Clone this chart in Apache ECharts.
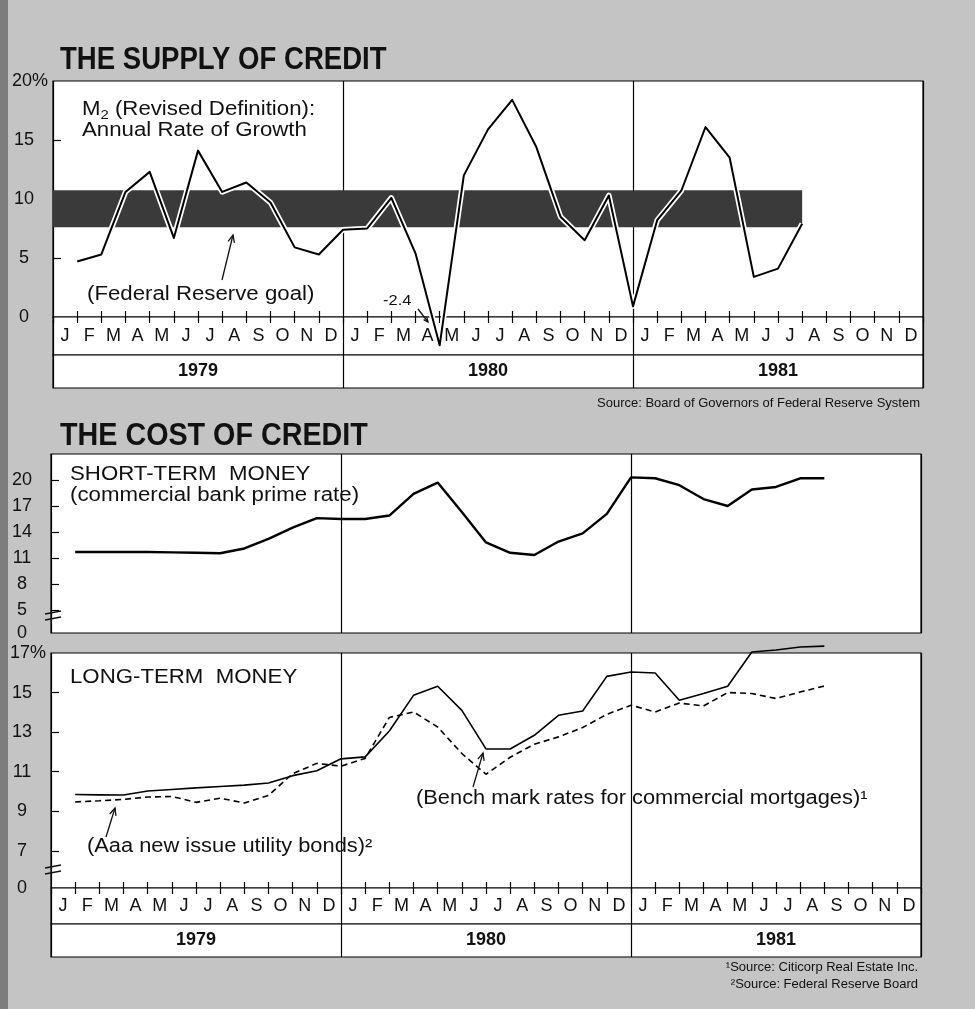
<!DOCTYPE html>
<html><head><meta charset="utf-8">
<script src="https://cdn.jsdelivr.net/npm/echarts@6/dist/echarts.min.js"></script>
<style>html,body{margin:0;padding:0;background:#c4c4c4;}#c{width:975px;height:1009px;}</style>
</head><body><div id="c"></div>
<script>
// ---------- data ----------
const monthLetters = ['J','F','M','A','M','J','J','A','S','O','N','D'];
const years = ['1979','1980','1981'];
// M2 annual rate of growth, Jan 1979 .. Jul 1981 (month-end)
const m2Growth = [4.7,5.3,10.6,12.3,6.7,14.1,10.6,11.4,9.7,5.9,5.3,7.4,
                  7.5,10.1,5.4,-2.4,12.0,15.9,18.4,14.4,8.5,6.5,10.3,0.9,
                  8.2,10.7,16.1,13.5,3.4,4.1,7.9];
const goalRange = [7.6, 10.75];
const goalEndMonth = 31;
// Commercial bank prime rate, Jan 1979 .. Aug 1981
const primeRate = [11.7,11.7,11.7,11.7,11.65,11.6,11.55,12.1,13.2,14.5,15.6,15.5,
                   15.5,15.9,18.4,19.7,16.3,12.8,11.6,11.35,12.9,13.85,16.1,20.3,
                   20.2,19.4,17.8,17.0,18.9,19.2,20.2,20.2];
// Bench mark rates for commercial mortgages (solid)
const mortgageRate = [9.85,9.83,9.82,10.02,10.1,10.18,10.25,10.32,10.43,10.8,11.05,11.65,
                      11.75,13.06,14.86,15.32,14.1,12.15,12.15,12.84,13.85,14.07,15.82,16.04,
                      15.99,14.61,14.95,15.32,17.05,17.15,17.3,17.35];
// Aaa new issue utility bonds (dashed)
const utilityBonds = [9.47,9.53,9.6,9.72,9.75,9.45,9.66,9.42,9.8,10.9,11.42,11.28,
                      11.67,13.74,14.02,13.26,11.92,10.87,11.73,12.39,12.76,13.23,13.9,14.36,
                      14.02,14.47,14.32,15.0,14.95,14.7,15.03,15.33];
// tick labels
const supplyLabels = [0,5,10,15,20];
const supplyTicks = [5,10,15];
const shortRange = [2.35, 23];
const shortLabels = [2.35,5,8,11,14,17,20,22];
const shortTicks = [5,8,11,14,17,20];
const longRange = [5.12, 17];
const longLabels = [5.12,7,9,11,13,15,17];
const longTicks = [7,9,11,13,15];

// ---------- helpers ----------
const F = '"Liberation Sans", Arial, Helvetica, sans-serif';
const INK = '#111';
const pts = arr => arr.map((v, i) => [i + 1, v]);
const allMonths = years.flatMap(() => monthLetters);
const monthTickVals = [];
for (let m = 1; m < 36; m++) if (m % 12) monthTickVals.push(m);

const gridBase = {show: true, backgroundColor: '#fff', borderColor: '#000', borderWidth: 1.2, containLabel: false, outerBoundsMode: 'none'};
const grids = [
  {left: 53, top: 81, width: 870, height: 236},   // 0 supply plot
  {left: 53, top: 317, width: 870, height: 38},   // 1 months
  {left: 53, top: 355, width: 870, height: 33},   // 2 years
  {left: 51, top: 454, width: 870, height: 179},  // 3 short-term
  {left: 51, top: 653, width: 870, height: 235},  // 4 long-term
  {left: 51, top: 888, width: 870, height: 36},   // 5 months
  {left: 51, top: 924, width: 870, height: 33}    // 6 years
].map(g => Object.assign({}, gridBase, g));

const lineBlack = {color: '#000', width: 1.2};
function plotX(gi) {
  return {type: 'value', gridIndex: gi, min: 0, max: 36, interval: 12, position: 'bottom',
    axisLine: {show: false, onZero: false}, axisLabel: {show: false}, axisTick: {show: false},
    splitLine: {show: true, lineStyle: lineBlack}};
}
function tickX(gi) {
  return {type: 'value', gridIndex: gi, min: 0, max: 36, position: 'bottom',
    axisLine: {show: false, onZero: false}, axisLabel: {show: false}, splitLine: {show: false},
    axisTick: {show: true, inside: true, length: 6, customValues: monthTickVals, lineStyle: lineBlack}};
}
function monthX(gi, margin) {
  return {type: 'category', gridIndex: gi, data: allMonths, position: 'top', boundaryGap: true,
    axisLine: {show: false, onZero: false},
    axisTick: {show: true, inside: true, length: 6, interval: 0, lineStyle: lineBlack},
    axisLabel: {inside: true, interval: 0, margin: margin, verticalAlign: 'middle', fontSize: 18, color: INK, fontFamily: F},
    splitLine: {show: true, interval: (i) => i % 12 === 0, lineStyle: lineBlack}};
}
function yearX(gi, margin) {
  return {type: 'category', gridIndex: gi, data: years, position: 'top', boundaryGap: true,
    axisLine: {show: false, onZero: false}, axisTick: {show: false},
    axisLabel: {inside: true, interval: 0, margin: margin, verticalAlign: 'middle', fontSize: 18, fontWeight: 'bold', color: INK, fontFamily: F},
    splitLine: {show: true, lineStyle: lineBlack}};
}
const pctRich = {p: {padding: [0, 0, 0, 12], fontSize: 18, color: INK, fontFamily: F}};
function valY(gi, min, max, labels, ticks, fmt) {
  return {type: 'value', gridIndex: gi, min: min, max: max,
    axisLine: {show: false, onZero: false}, splitLine: {show: false},
    axisTick: {show: true, inside: true, length: 8, customValues: ticks, lineStyle: lineBlack},
    axisLabel: {customValues: labels, formatter: fmt, margin: 29, align: 'center', fontSize: 18, color: INK, fontFamily: F, rich: pctRich}};
}
const dummyY = gi => ({type: 'value', gridIndex: gi, show: false, min: 0, max: 1});

const xAxis = [plotX(0), monthX(1, 19), yearX(2, 16.5), plotX(3), plotX(4), monthX(5, 18), yearX(6, 16.5), tickX(0), tickX(4)];
const yAxis = [
  valY(0, 0, 20, supplyLabels, supplyTicks, v => v === 20 ? '{p|20%}' : String(v)),
  dummyY(1), dummyY(2),
  valY(3, shortRange[0], shortRange[1], shortLabels, shortTicks, v => v < 3 ? '0' : (v === 22 ? '{p|22%}' : String(v))),
  valY(4, longRange[0], longRange[1], longLabels, longTicks, v => v < 6 ? '0' : (v === 17 ? '{p|17%}' : String(v))),
  dummyY(5), dummyY(6)
];

const series = [
  {type: 'line', xAxisIndex: 0, yAxisIndex: 0, data: pts(m2Growth), symbol: 'none', silent: true, z: 1,
    lineStyle: {opacity: 0},
    markArea: {silent: true, itemStyle: {color: '#3a3a3a'},
      data: [[{xAxis: 0, yAxis: goalRange[0]}, {xAxis: goalEndMonth, yAxis: goalRange[1]}]]}},
  {type: 'line', xAxisIndex: 0, yAxisIndex: 0, data: pts(m2Growth), symbol: 'none', silent: true, clip: false, z: 2,
    lineStyle: {color: '#fff', width: 5.5, join: 'round'}},
  {type: 'line', xAxisIndex: 0, yAxisIndex: 0, data: pts(m2Growth), symbol: 'none', silent: true, clip: false, z: 3,
    lineStyle: {color: '#000', width: 2, join: 'round'}},
  {type: 'line', xAxisIndex: 3, yAxisIndex: 3, data: pts(primeRate), symbol: 'none', silent: true, clip: false, z: 3,
    lineStyle: {color: '#000', width: 2.4, join: 'round'}},
  {type: 'line', xAxisIndex: 4, yAxisIndex: 4, data: pts(mortgageRate), symbol: 'none', silent: true, clip: false, z: 3,
    lineStyle: {color: '#000', width: 1.6, join: 'round'}},
  {type: 'line', xAxisIndex: 4, yAxisIndex: 4, data: pts(utilityBonds), symbol: 'none', silent: true, clip: false, z: 3,
    lineStyle: {color: '#000', width: 1.6, type: [6, 4]}}
];

function txt(x, y, text, size, o) {
  o = o || {};
  return {type: 'text', x: x, y: y, scaleX: o.sx || 1, scaleY: o.sy || 1, z: 100, silent: true,
    style: Object.assign({text: text, fontSize: size, fontFamily: F, fontWeight: o.w || 'normal', fill: INK,
      align: o.align || 'left', verticalAlign: 'middle'}, o.style || {})};
}
function arrow(tx, ty, hx, hy, len) {
  len = len || 8;
  const a = Math.atan2(hy - ty, hx - tx);
  const p1 = [hx - len * Math.cos(a - 0.42), hy - len * Math.sin(a - 0.42)];
  const p2 = [hx - len * Math.cos(a + 0.42), hy - len * Math.sin(a + 0.42)];
  const st = {stroke: INK, lineWidth: 1.3, fill: null};
  return [{type: 'polyline', z: 100, silent: true, shape: {points: [[tx, ty], [hx, hy]]}, style: st},
          {type: 'polyline', z: 100, silent: true, shape: {points: [p1, [hx, hy], p2]}, style: st}];
}
function brk(x1, x2, y1, y2) {
  const st = {stroke: INK, lineWidth: 1.3};
  return [{type: 'line', z: 100, silent: true, shape: {x1: x1, y1: y1, x2: x2, y2: y1 - 3}, style: st},
          {type: 'line', z: 100, silent: true, shape: {x1: x1, y1: y2, x2: x2, y2: y2 - 3}, style: st}];
}
const S = 1.14, FS = 19.5;
const elements = [
  {type: 'rect', z: -1, silent: true, shape: {x: 0, y: 0, width: 8, height: 1009}, style: {fill: '#7d7d7d'}},
  txt(60, 61, 'THE SUPPLY OF CREDIT', 29, {w: 'bold', sx: 0.95, sy: 1.05}),
  txt(82, 110, 'M{s|2} (Revised Definition):', FS, {sx: S, style: {rich: {s: {fontSize: 13, padding: [10, 0, 0, 0], fontFamily: F, fill: INK}}}}),
  txt(82, 131, 'Annual Rate of Growth', FS, {sx: S}),
  txt(87, 295, '(Federal Reserve goal)', FS, {sx: S}),
  txt(383, 301, '-2.4', 15, {sx: 1.1}),
  txt(920, 403, 'Source: Board of Governors of Federal Reserve System', 13, {align: 'right'}),
  txt(60, 437, 'THE COST OF CREDIT', 29, {w: 'bold', sx: 0.99, sy: 1.05}),
  txt(70, 474.5, 'SHORT-TERM  MONEY', FS, {sx: S}),
  txt(70, 496, '(commercial bank prime rate)', FS, {sx: S}),
  txt(70, 678, 'LONG-TERM  MONEY', FS, {sx: S}),
  txt(87, 846.5, '(Aaa new issue utility bonds)²', FS, {sx: 1.12}),
  txt(416, 799, '(Bench mark rates for commercial mortgages)¹', FS, {sx: 1.12}),
  txt(918, 967, '¹Source: Citicorp Real Estate Inc.', 13, {align: 'right'}),
  txt(918, 984, '²Source: Federal Reserve Board', 13, {align: 'right'})
].concat(
  arrow(222, 280, 233, 235),
  arrow(473, 787, 483, 753),
  arrow(106, 837, 115, 808),
  arrow(418, 309, 428, 322, 5),
  brk(45, 61, 614, 620),
  brk(45, 61, 868, 874)
);

const chart = echarts.init(document.getElementById('c'), null, {renderer: 'canvas'});
chart.setOption({
  backgroundColor: '#c4c4c4',
  animation: false,
  textStyle: {fontFamily: F},
  grid: grids, xAxis: xAxis, yAxis: yAxis, series: series,
  graphic: {elements: elements}
});
</script></body></html>
